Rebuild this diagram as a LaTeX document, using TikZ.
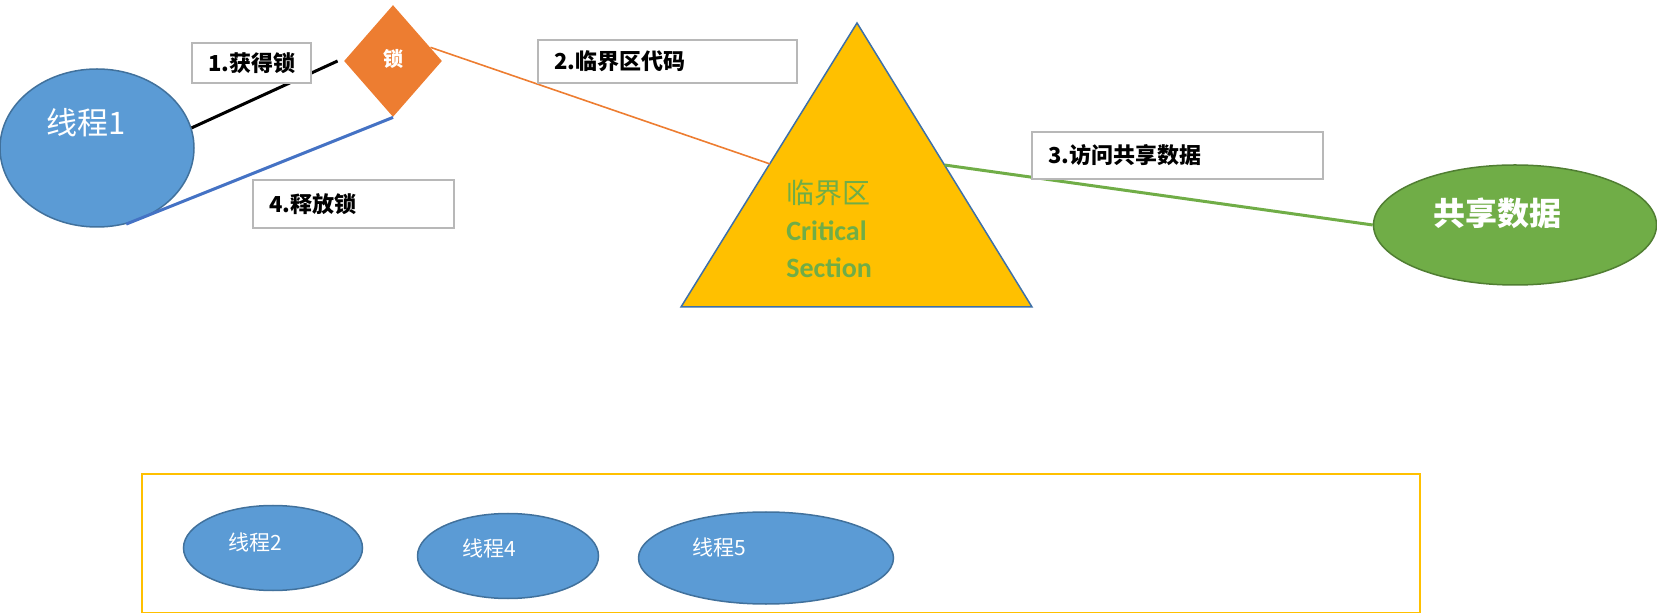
\documentclass[tikz,border=0pt]{standalone}
\usepackage{fontspec}
\setmainfont{Noto Sans CJK SC}
\newfontfamily\latinfont{Carlito}
\usetikzlibrary{shapes.geometric, calc}
\definecolor{ThreadFill}{HTML}{5B9BD5}
\definecolor{ThreadLine}{HTML}{41719C}
\definecolor{LockFill}{HTML}{ED7D31}
\definecolor{CritFill}{HTML}{FFC000}
\definecolor{CritLine}{HTML}{3E70A8}
\definecolor{SharedFill}{HTML}{70AD47}
\definecolor{SharedLine}{HTML}{507E32}
\definecolor{CritText}{HTML}{70AD47}
\definecolor{BoxLine}{HTML}{B8B8B8}
\definecolor{ReleaseLine}{HTML}{4472C4}
\newcommand{\pxu}{0.5pt}

\begin{document}
\begin{tikzpicture}[
    x=0.5pt, y=-0.5pt,
    thread/.style={ellipse, draw=ThreadLine, fill=ThreadFill,
                   line width=0.75pt, inner sep=0pt},
    tname/.style={text=white, inner sep=0pt},
    lockd/.style={diamond, fill=LockFill, inner sep=0pt, text=white,
                  font=\bfseries\fontsize{10}{12}\selectfont},
    shared/.style={ellipse, draw=SharedLine, fill=SharedFill,
                   line width=0.75pt, inner sep=0pt},
    crit/.style={draw=CritLine, fill=CritFill, line width=0.75pt,
                 line join=miter},
    crittext/.style={text=CritText, align=left, inner sep=0pt,
                     font=\fontsize{14}{18.5}\selectfont},
    stepbox/.style={rectangle, draw=BoxLine, fill=white, line width=1pt,
                    anchor=north west, inner xsep=8pt, inner ysep=0pt,
                    minimum height=#1, align=left,
                    font=\bfseries\fontsize{11}{13}\selectfont},
    pool/.style={rectangle, draw=CritFill, line width=1pt, anchor=north west},
    conn/.style={line width=1.5pt}
]
\useasboundingbox (0,0) rectangle (1657,613);

% Thread, lock and shared data
\node[thread, minimum width=194*\pxu, minimum height=158*\pxu,
      label={[tname, font=\fontsize{15.5}{18}\selectfont,
              xshift=-11*\pxu, yshift=25*\pxu]center:线程1}] (t1) at (97,148) {};

\node[lockd, minimum width=98*\pxu, minimum height=112*\pxu] (lock) at (393,61)
    {\raisebox{3pt}{锁}};

\node[shared, minimum width=283*\pxu, minimum height=120*\pxu,
      label={[tname, font=\bfseries\fontsize{16}{18}\selectfont,
              xshift=-18*\pxu, yshift=12*\pxu]center:共享数据}] (shared) at (1515,225) {};

% Critical section
\coordinate (apex) at (857,23);
\coordinate (bl) at (681,307);
\coordinate (br) at (1032,307);
\draw[crit] (apex) -- (br) -- (bl) -- cycle;
\coordinate (csL) at ($(apex)!0.496!(bl)$);
\coordinate (csR) at ($(apex)!0.5!(br)$);
\node[crittext, anchor=west] (cstext) at (786,229)
    {临界区\\{\latinfont\bfseries Critical}\\{\latinfont\bfseries Section}};

% Waiting threads
\node[pool, minimum width=1278*\pxu, minimum height=139*\pxu] (waiting) at (141,473) {};
\node[thread, minimum width=179*\pxu, minimum height=85*\pxu,
      label={[tname, font=\fontsize{10.5}{12}\selectfont,
              xshift=-18*\pxu, yshift=6*\pxu]center:线程2}] (t2) at (273,548) {};
\node[thread, minimum width=181*\pxu, minimum height=85*\pxu,
      label={[tname, font=\fontsize{10.5}{12}\selectfont,
              xshift=-19*\pxu, yshift=8*\pxu]center:线程4}] (t4) at (508,556) {};
\node[thread, minimum width=255*\pxu, minimum height=92*\pxu,
      label={[tname, font=\fontsize{10.5}{12}\selectfont,
              xshift=-47*\pxu, yshift=11*\pxu]center:线程5}] (t5) at (766,558) {};

% Connectors
\draw[conn, black] (t1.12) -- ([xshift=-3pt]lock.west);
\draw[conn, ReleaseLine] (t1.-69) -- (lock.south);
\draw[LockFill, line width=0.8pt] (lock.20) -- (csL);
\draw[conn, SharedFill] (csR) -- (shared.west);

% Step labels
\node[stepbox=20pt, text width=43.5pt] (acquire) at (191,42) {1.获得锁};
\node[stepbox=21.5pt, text width=113.5pt] (code) at (537,39) {2.临界区代码};
\node[stepbox=23.5pt, text width=129.5pt] (access) at (1031,131) {3.访问共享数据};
\node[stepbox=24pt, text width=84.5pt] (release) at (252,179) {4.释放锁};

\end{tikzpicture}
\end{document}
